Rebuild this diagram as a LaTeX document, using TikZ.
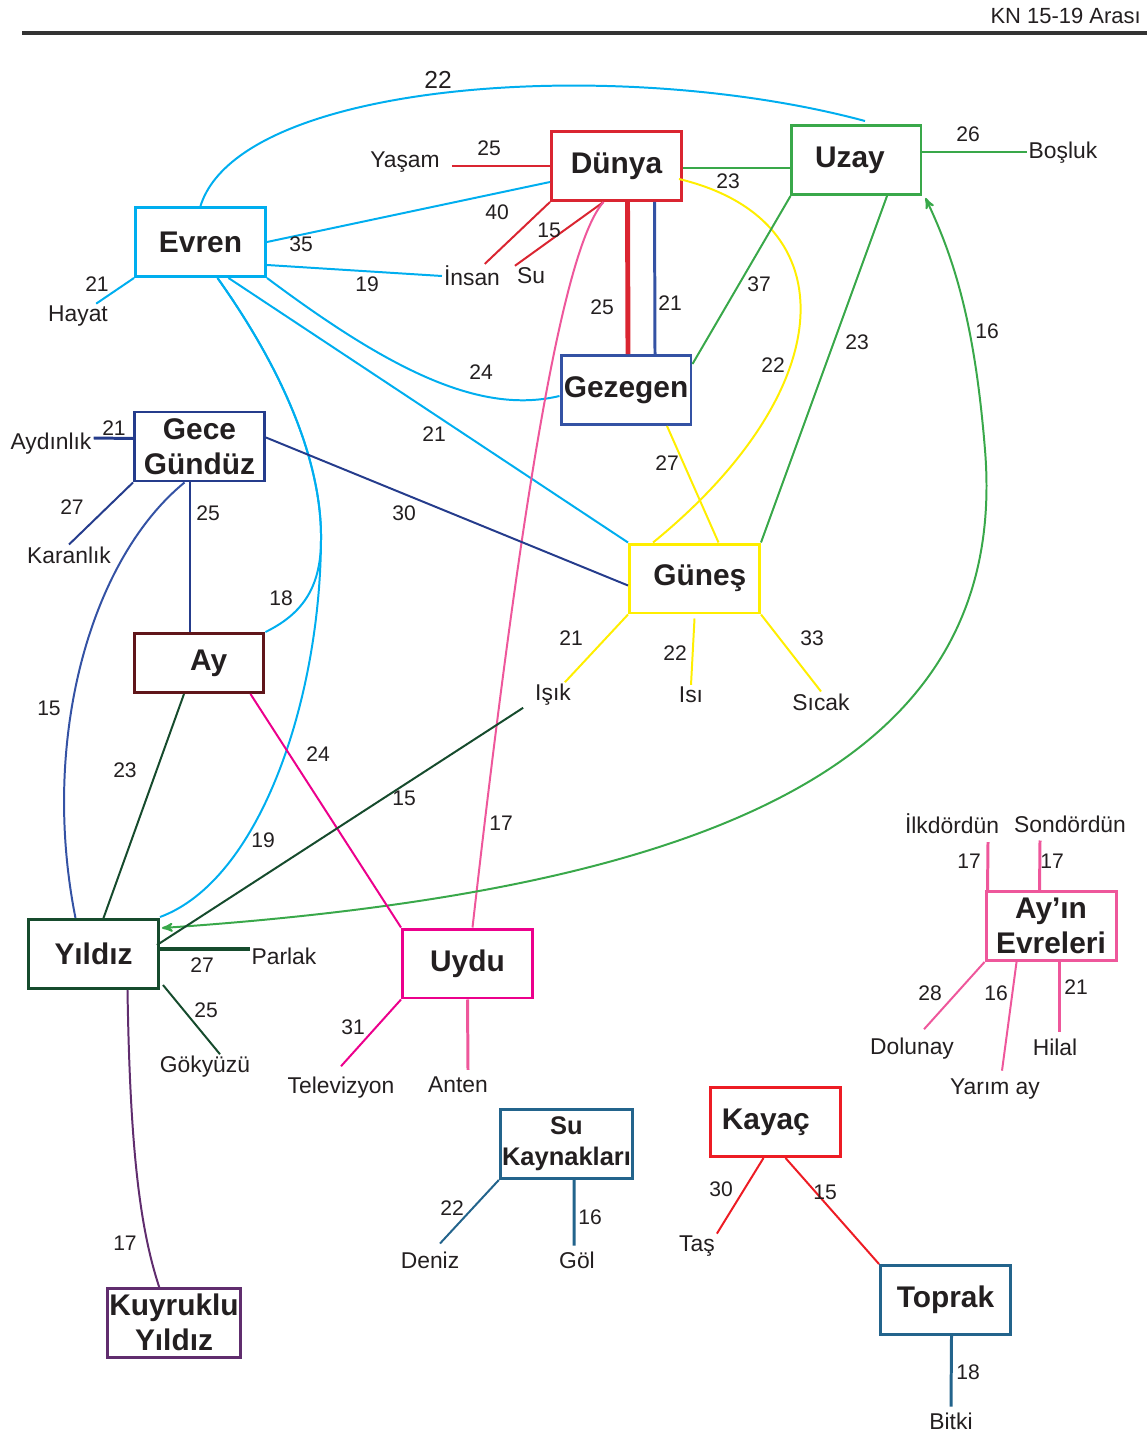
\documentclass[tikz,border=0pt]{standalone}
\usepackage{fontspec}
\setmainfont{Liberation Sans}
\usetikzlibrary{arrows,calc,positioning}
\definecolor{txt}{RGB}{35,31,32}
\definecolor{cevren}{RGB}{0,174,239}
\definecolor{cdunya}{RGB}{218,37,49}
\definecolor{cuzay}{RGB}{57,168,74}
\definecolor{cgez}{RGB}{52,82,164}
\definecolor{cgg}{RGB}{37,60,140}
\definecolor{cgunes}{RGB}{255,238,0}
\definecolor{cay}{RGB}{96,22,26}
\definecolor{cyildiz}{RGB}{22,75,45}
\definecolor{cuydu}{RGB}{236,0,140}
\definecolor{cevre}{RGB}{238,87,155}
\definecolor{csu}{RGB}{35,100,140}
\definecolor{ckayac}{RGB}{237,28,36}
\definecolor{ckuy}{RGB}{96,45,110}

\begin{document}
\begin{tikzpicture}[x=0.02cm,y=-0.02cm,>=stealth',line cap=butt]
          \tikzset{box/.style={draw,line width=1.7pt,minimum width=2.6cm,minimum height=1.38cm,inner sep=1pt,align=center,text=txt,font=\fontsize{17}{20}\selectfont\bfseries}}
          \tikzset{leaf/.style={inner sep=1pt,text=txt,font=\fontsize{13}{15}\selectfont}}
          \tikzset{num/.style={inner sep=0pt,text=txt,font=\fontsize{12}{14}\selectfont}}
          \tikzset{link/.style={line width=1.13pt}}
          \tikzset{fat/.style={line width=1.7pt}}
          \useasboundingbox (0,0) rectangle (1147,1435);
          % header
          \node[anchor=east,inner sep=0pt,text=txt,font=\fontsize{12.5}{14}\selectfont] (Baslik) at (1141,16) {KN 15-19 Arası};
          \draw[line width=2.2pt,black!80] (22,33) -- (1147,33);
          % boxes
          \node[box,draw=cevren]                   (Evren)    at (200.5,242)  {Evren};
          \node[box,draw=cdunya]                   (Dunya)    at (616.5,166)  {Dünya};
          \node[box,draw=cuzay]                    (Uzay)     at (856,160)    {Uzay\kern7pt};
          \node[box,draw=cgez]                     (Gezegen)  at (626,390)    {Gezegen};
          \node[box,draw=cgg]                      (Gece)     at (199.5,446.5){Gece\\Gündüz};
          \node[box,draw=cgunes]                   (Gunes)    at (694.5,578.5){\kern6pt Güneş};
          \node[box,draw=cay,minimum height=1.18cm](Ay)       at (199,663)    {\kern11pt Ay};
          \node[box,draw=cyildiz]                  (Yildiz)   at (93.5,954)   {Yıldız};
          \node[box,draw=cuydu]                    (Uydu)     at (467.5,963.5){Uydu};
          \node[box,draw=cevre]                    (Evreler)  at (1051,926)   {Ay’ın\\Evreleri};
          \node[box,draw=csu,font=\fontsize{14.5}{17.5}\selectfont\bfseries] (Su) at (566.5,1144) {Su\\Kaynakları};
          \node[box,draw=ckayac]                   (Kayac)    at (775.5,1122) {Kayaç\kern11pt};
          \node[box,draw=csu]                      (Toprak)   at (945.5,1300) {Toprak};
          \node[box,draw=ckuy]                     (Kuyruklu) at (174,1322.5) {Kuyruklu\\Yıldız};
          % leaves
          \node[leaf] (Yasam)      at (405,162)  {Yaşam};
          \node[leaf] (Insan)      at (472,276)  {İnsan};
          \node[leaf] (Sui)        at (531,276)  {Su};
          \node[leaf] (Hayat)      at (78,316)   {Hayat};
          \node[leaf] (Bosluk)     at (1063,153) {Boşluk};
          \node[leaf] (Aydinlik)   at (51,444)   {Aydınlık};
          \node[leaf] (Karanlik)   at (69,555)   {Karanlık};
          \node[leaf] (Isik)       at (553,695)  {Işık};
          \node[leaf] (Isi)        at (691,695)  {Isı};
          \node[leaf] (Sicak)      at (821,702)  {Sıcak};
          \node[leaf] (Parlak)     at (284,956)  {Parlak};
          \node[leaf] (Gokyuzu)    at (205,1067) {Gökyüzü};
          \node[leaf] (Televizyon) at (341,1088) {Televizyon};
          \node[leaf] (Anten)      at (458,1085) {Anten};
          \node[leaf] (Ilkdordun)  at (952,824)  {İlkdördün};
          \node[leaf] (Sondordun)  at (1070,824) {Sondördün};
          \node[leaf] (Dolunay)    at (912,1049) {Dolunay};
          \node[leaf] (Hilal)      at (1055,1047){Hilal};
          \node[leaf] (Yarimay)    at (995,1089) {Yarım ay};
          \node[leaf] (Deniz)      at (430,1260) {Deniz};
          \node[leaf] (Gol)        at (577,1260) {Göl};
          \node[leaf] (Tas)        at (697,1246) {Taş};
          \node[leaf] (Bitki)      at (951,1421) {Bitki};
          % Evren
          \draw[link,cevren] (Evren.north) .. controls (240,80) and (620,55) .. ($(Uzay.north)+(9,-3)$);
          \draw[link,cevren] (Evren.east) -- ($(Dunya.west)+(0,16)$);
          \draw[link,cevren] ($(Evren.east)+(0,23)$) -- (Insan.west);
          \draw[link,cevren] (Evren.south east) .. controls (390,370) and (480,415) .. ($(Gezegen.west)+(0,6)$);
          \draw[link,cevren] ($(Evren.south)+(28,0)$) -- (Gunes.north west);
          \draw[link,cevren] (Evren.south west) -- (Hayat);
          \draw[link,cevren] ($(Evren.south)+(17,0)$) .. controls (290,380) and (322,470) .. (321,540) .. controls (320,700) and (260,880) .. ($(Yildiz.north east)+(0,-1)$);
          \draw[link,cevren] ($(Evren.south)+(17,0)$) .. controls (290,380) and (322,470) .. (321,540) .. controls (321,590) and (300,615) .. (Ay.north east);
          % Dunya
          \draw[fat,cdunya] ($(Yasam.east)+(10,4)$) -- (Dunya.west);
          \draw[link,cdunya] (Dunya.south west) -- (Insan);
          \draw[link,cdunya] ($(Dunya.south)+(-13,0)$) -- (Sui.north west);
          \draw[fat,cuzay] ($(Dunya.east)+(0,2)$) -- ($(Uzay.west)+(0,8)$);
          \draw[line width=2.8pt,cdunya] ($(Dunya.south)+(11,0)$) -- ($(Gezegen.north)+(2,0)$);
          \draw[fat,cgez] ($(Dunya.south)+(38,0)$) -- ($(Gezegen.north)+(29,0)$);
          \draw[link,cgunes] ($(Dunya.east)+(-4,13)$) .. controls (850,220) and (840,390) .. ($(Gunes.north west)+(25,0)$);
          \draw[link,cevre] ($(Dunya.south)+(-13,0)$) .. controls (570,240) and (530,420) .. ($(Uydu.north)+(5,0)$);
          % Uzay
          \draw[fat,cuzay] ($(Uzay.east)+(0,-8)$) -- ($(Bosluk.west)+(0,-1)$);
          \draw[link,cuzay] ($(Uzay.south west)+(1,0)$) -- ($(Gezegen.east)+(0,-26)$);
          \draw[link,cuzay] ($(Uzay.south)+(31,0)$) -- (Gunes.north east);
          \draw[link,cuzay,<->] ($(Uzay.south east)+(3,2)$) .. controls (955,260) and (975,326) .. (985,450) .. controls (1010,760) and (720,890) .. ($(Yildiz.east)+(2,-26)$);
          % Gezegen
          \draw[link,cgunes] ($(Gezegen.south)+(41,0)$) -- ($(Gunes.north)+(24,0)$);
          % Gece Gunduz
          \draw[fat,cgg] ($(Gece.west)+(0,-8)$) -- ($(Aydinlik.east)+(0,-6)$);
          \draw[link,cgg] (Gece.south west) -- (Karanlik.north);
          \draw[fat,cgg] ($(Gece.south)+(-9.5,0)$) -- ($(Ay.north)+(-9,0)$);
          \draw[link,cgg] ($(Gece.east)+(0,-9)$) -- ($(Gunes.west)+(0,7)$);
          \draw[link,cgez] ($(Gece.south)+(-15,0)$) .. controls (90,560) and (40,740) .. ($(Yildiz.north)+(-18,0)$);
          % Gunes
          \draw[link,cgunes] (Gunes.south west) -- (Isik);
          \draw[link,cgunes] ($(Gunes.south)+(0,4)$) -- (Isi.north);
          \draw[link,cgunes] (Gunes.south east) -- (Sicak.north);
          % Ay
          \draw[link,cyildiz] ($(Ay.south)+(-15,0)$) -- ($(Yildiz.north)+(10,0)$);
          \draw[link,cuydu] ($(Ay.south east)+(-15,0)$) -- (Uydu.north west);
          \draw[link,cyildiz] ($(Isik.south west)+(-10,0)$) -- ($(Yildiz.east)+(-3,-9)$);
          % Yildiz
          \draw[line width=2.3pt,cyildiz] ($(Yildiz.east)+(0,-5)$) -- ($(Parlak.west)+(0,-7)$);
          \draw[link,cyildiz] ($(Yildiz.south east)+(3,-5)$) -- ($(Gokyuzu.north)+(15,0)$);
          \draw[link,ckuy] ($(Yildiz.south)+(34,0)$) .. controls (130,1150) and (140,1230) .. ($(Kuyruklu.north)+(-14,3)$);
          % Uydu
          \draw[link,cuydu] (Uydu.south west) -- ($(Televizyon.north)+(0,-9)$);
          \draw[fat,cevre] (Uydu.south) -- ($(Anten.north)+(10,-5)$);
          % Ay'in Evreleri
          \draw[fat,cevre] ($(Evreler.north west)+(3,0)$) -- ($(Ilkdordun.south)+(36,6)$);
          \draw[fat,cevre] ($(Evreler.north west)+(55,0)$) -- ($(Sondordun.south)+(-30,6)$);
          \draw[link,cevre] (Evreler.south west) -- ($(Dolunay.north)+(12,-7)$);
          \draw[link,cevre] ($(Evreler.south west)+(32,0)$) -- ($(Yarimay.north)+(7,-6)$);
          \draw[fat,cevre] ($(Evreler.south)+(8,0)$) -- ($(Hilal.north)+(4,-5)$);
          % Su, Kayac, Toprak
          \draw[link,csu] (Su.south west) -- ($(Deniz.north)+(10,-6)$);
          \draw[fat,csu] ($(Su.south)+(7.5,0)$) -- ($(Gol.north)+(-3,-4)$);
          \draw[link,ckayac] ($(Kayac.south)+(-12,0)$) -- (Tas.north east);
          \draw[link,ckayac] ($(Kayac.south)+(10,0)$) -- (Toprak.north west);
          \draw[fat,csu] ($(Toprak.south)+(6,0)$) -- ($(Bitki.north)+(0,-4)$);
          % numbers
          \node[num,font=\fontsize{14}{16}\selectfont] (n0) at (438,80) {22};
          \foreach \x/\y/\t [count=\i] in {489/148/25, 497/212/40, 549/230/15, 728/181/23, 968/134/26,
              301/244/35, 367/284/19, 97/284/21, 602/307/25, 670/303/21, 759/284/37, 857/342/23,
              987/331/16, 773/365/22, 481/372/24, 114/428/21, 434/434/21, 667/463/27, 72/507/27,
              208/513/25, 404/513/30, 281/598/18, 571/638/21, 675/653/22, 812/638/33, 49/708/15,
              125/770/23, 318/754/24, 404/798/15, 501/823/17, 263/840/19, 969/861/17, 1052/861/17,
              202/965/27, 206/1010/25, 930/993/28, 996/993/16, 1076/987/21, 353/1027/31,
              452/1208/22, 590/1217/16, 721/1189/30, 825/1192/15, 125/1243/17, 968/1372/18}
            \node[num] (n\i) at (\x,\y) {\t};
\end{tikzpicture}
\end{document}
